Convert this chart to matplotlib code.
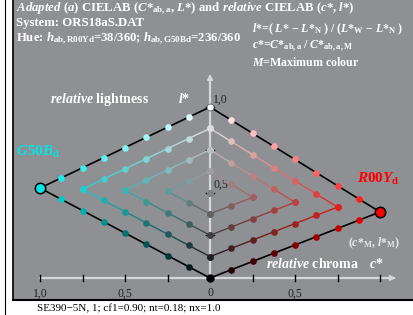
import numpy as np
import matplotlib
matplotlib.use("Agg")
from matplotlib import pyplot as plt
from matplotlib.patches import Rectangle

plt.rcParams["font.family"] = ["Liberation Serif", "DejaVu Serif"]
plt.rcParams["mathtext.fontset"] = "custom"
plt.rcParams["mathtext.rm"] = "Liberation Serif:bold"
plt.rcParams["mathtext.it"] = "Liberation Serif:italic:bold"
plt.rcParams["mathtext.bf"] = "Liberation Serif:bold"

# ------------------------------------------------------------------------ data
n_steps = 8
hue_names = [r"$R00Y_{\rm d}$", r"$G50B_{\rm d}$"]
hue_side = [1, -1]                       # red to the right, cyan to the left
hue_rgb = [(1.0, 0.0, 0.0), (0.0, 0.9, 0.9)]
hue_lmax = [0.386, 0.526]                # relative lightness l*_M of each hue
tick_vals = [0.25, 0.5, 0.75, 1.0]
x_labels = {-1.0: "1,0", -0.5: "0,5", 0.0: "0", 0.5: "0,5"}
y_labels = {0.5: "0,5", 1.0: "1,0"}

bg = (0.56, 0.565, 0.58)
W, H = 413, 315


def px(x, y):
    return x / W, 1 - y / H


# ---------------------------------------------------------------------- figure
fig = plt.figure(figsize=(W / 100, H / 100), dpi=100)
fig.patch.set_facecolor("white")

ax = fig.add_axes([0, 0, 1, 1])
ax.set_xlim(-210 / 170, (W - 210) / 170)
ax.set_ylim((278 - H) / 171, 278 / 171)
ax.axis("off")

ax.add_patch(Rectangle(px(13, 300), 1 - 13 / W, 300 / H, transform=ax.transAxes,
                       facecolor=bg, edgecolor="none", zorder=0))
ax.plot([13 / W, 13 / W], [15 / H, 1], color="black", lw=1.2, transform=ax.transAxes, zorder=1)
ax.plot([13 / W, 1], [15 / H, 15 / H], color="black", lw=1.5, transform=ax.transAxes, zorder=1)
ax.plot([5 / W, 5 / W], [0, 1], color="black", lw=0.8, transform=ax.transAxes, zorder=1)

# axes with arrows
axis_col = "#d6d6d6"
ax.plot([-1, 1.07], [0, 0], color=axis_col, lw=1.6, zorder=1)
ax.plot([0, 0], [0, 1.17], color=axis_col, lw=1.6, zorder=1)
ax.annotate("", xy=(1.11, 0), xytext=(1.06, 0),
            arrowprops=dict(arrowstyle="-|>", color=axis_col, lw=1.2, mutation_scale=8))
ax.annotate("", xy=(0, 1.21), xytext=(0, 1.15),
            arrowprops=dict(arrowstyle="-|>", color=axis_col, lw=1.2, mutation_scale=8))
for t in tick_vals:
    for s in (-1, 1):
        ax.plot([s * t, s * t], [-0.018, 0.018], color="black", lw=1, zorder=2)
    ax.plot([-0.022, 0.022], [t, t], color="black", lw=1, zorder=2)
for t, lab in x_labels.items():
    ax.text(t, -0.055, lab, ha="center", va="top", fontsize=8.5, color="#222222")
for t, lab in y_labels.items():
    ax.text(0.02, t + 0.01, lab, ha="left", va="bottom", fontsize=8.5, color="#222222")


# ------------------------------------------------------------------ grid lines
def mix(rgb, a, w):
    return tuple(min(1.0, a * c + w) for c in rgb)


for side, rgb, lv in zip(hue_side, hue_rgb, hue_lmax):
    for k in range(n_steps // 2 + 1):
        m = n_steps - 2 * k
        low = [(j / n_steps, k / n_steps) for j in range(m + 1)]
        up = [((m - j) / n_steps, (k + j) / n_steps) for j in range(m + 1)]
        for arm in (low, up):
            xs = [side * a for a, w in arm]
            ys = [a * lv + w for a, w in arm]
            for i in range(len(arm) - 1):
                if k == 0:
                    col = "black"
                    lw = 1.2
                else:
                    a = (arm[i][0] + arm[i + 1][0]) / 2
                    w = (arm[i][1] + arm[i + 1][1]) / 2
                    col = mix(rgb, a, w)
                    lw = 1.0
                ax.plot(xs[i:i + 2], ys[i:i + 2], color=col, lw=lw, zorder=3)
            for (a, w), x, y in zip(arm, xs, ys):
                ax.plot(x, y, "o", ms=4.8, mec="none", mfc=mix(rgb, a, w), zorder=4)
    ax.plot(side * 1.0, lv, "o", ms=7.5, mfc=rgb, mec="black", mew=1.1, zorder=5)

ax.plot(0, 1, "o", ms=5, mfc="white", mec="#444444", mew=0.5, zorder=5)
ax.plot(0, 0, "o", ms=5, mfc="black", mec="black", zorder=5)

# ------------------------------------------------------------------------ text
fs = 9.2
fig.text(*px(16, 9), r"$\mathit{Adapted\ (a)}$ CIELAB ($C{*}_{\rm ab,a}$, $L{*}$) and "
         r"$\mathit{relative}$ CIELAB ($c{*}$, $l{*}$)",
         color="white", fontsize=fs, fontweight="bold", va="center")
fig.text(*px(16, 23), "System: ORS18aS.DAT", color="white", fontsize=fs,
         fontweight="bold", va="center")
fig.text(*px(16, 39), r"Hue: $h_{\rm ab,R00Yd}$=38/360; $h_{\rm ab,G50Bd}$=236/360",
         color="white", fontsize=fs, fontweight="bold", va="center")
fs2 = 8.6
fig.text(*px(252, 29), r"$l{*}$=( $L{*}$ − $L{*}_{\rm N}$ ) / ($L{*}_{\rm W}$ − $L{*}_{\rm N}$ )",
         color="white", fontsize=fs2, fontweight="bold", va="center")
fig.text(*px(252, 46), r"$c{*}$=$C{*}_{\rm ab,a}$ / $C{*}_{\rm ab,a,M}$",
         color="white", fontsize=fs2, fontweight="bold", va="center")
fig.text(*px(252, 62), r"$M$=Maximum colour", color="white", fontsize=fs2,
         fontweight="bold", va="center")

fig.text(*px(50, 99), r"$\mathit{relative}$ lightness", color="white",
         fontsize=10, fontweight="bold", va="center")
fig.text(*px(178, 99), r"$l{*}$", color="white", fontsize=10, fontweight="bold", va="center")
fig.text(*px(266, 264), r"$\mathit{relative}$ chroma", color="white",
         fontsize=10, fontweight="bold", va="center")
fig.text(*px(369, 264), r"$c{*}$", color="white", fontsize=10, fontweight="bold", va="center")
fig.text(*px(348, 243), r"($c{*}_{\rm M}$, $l{*}_{\rm M}$)", color="#e8e8e8",
         fontsize=8.5, fontweight="bold", va="center")
fig.text(*px(16, 152), hue_names[1], color=hue_rgb[1], fontsize=11, va="center")
fig.text(*px(357, 179), hue_names[0], color=hue_rgb[0], fontsize=11, va="center")

fig.text(*px(37, 309), "SE390−5N, 1; cf1=0.90; nt=0.18; nx=1.0", color="black",
         fontsize=8, va="center")

fig.savefig("out.png", dpi=100, facecolor="white")
